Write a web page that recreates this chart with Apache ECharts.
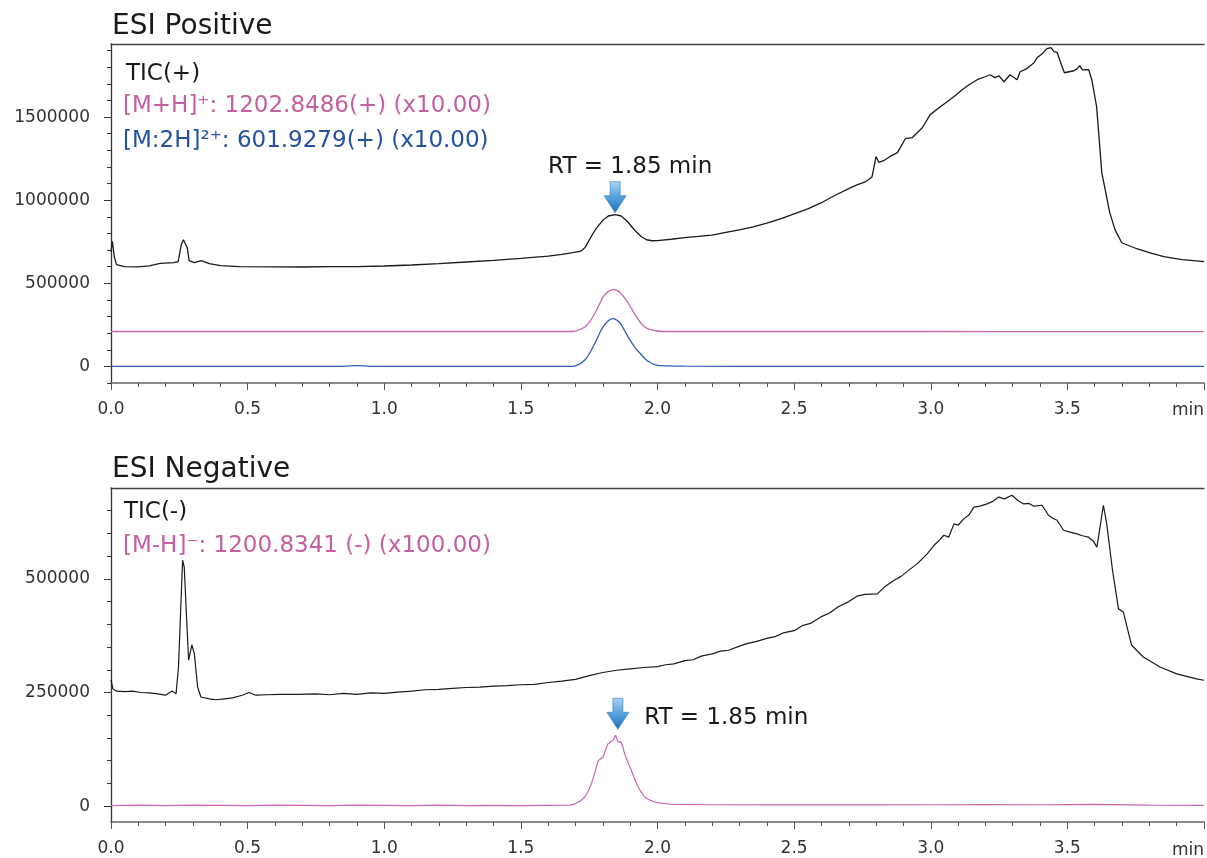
<!DOCTYPE html>
<html>
<head>
<meta charset="utf-8">
<script src="https://cdn.jsdelivr.net/npm/echarts@6/dist/echarts.min.js"></script>
<style>
	html,body{margin:0;padding:0;background:#fff;}
	#chart{width:1207px;height:858px;}
</style>
</head>
<body>
<div id="chart"></div>
<script>
// ---- data (time in min, intensity) ----
var ticPos = [
	[0.000,690000],[0.005,752000],[0.012,660000],[0.020,612000],[0.050,600000],[0.100,599000],[0.140,605000],
	[0.180,620000],[0.230,624000],[0.246,630000],[0.257,732000],[0.265,762000],[0.272,765000],[0.279,714000],
	[0.286,636000],[0.305,624000],[0.330,636000],[0.360,618000],[0.400,606000],[0.470,600000],[0.600,599000],
	[0.700,598000],[0.800,600000],[0.900,600000],[1.000,604000],[1.100,610000],[1.200,618000],[1.300,628000],
	[1.400,638000],[1.500,650000],[1.600,664000],[1.650,674000],[1.690,684000],[1.720,694000],[1.735,715000],
	[1.750,760000],[1.772,822000],[1.800,880000],[1.820,905000],[1.845,913000],[1.867,905000],[1.890,872000],
	[1.915,822000],[1.940,782000],[1.960,762000],[1.980,756000],[2.000,757000],[2.050,765000],[2.100,775000],
	[2.150,782000],[2.200,790000],[2.250,806000],[2.300,822000],[2.350,840000],[2.400,862000],[2.450,888000],
	[2.500,918000],[2.550,948000],[2.600,985000],[2.650,1030000],[2.700,1070000],[2.730,1092000],[2.760,1110000],
	[2.785,1140000],[2.800,1262000],[2.810,1228000],[2.830,1240000],[2.850,1262000],[2.878,1286000],[2.907,1370000],
	[2.932,1376000],[2.969,1436000],[2.998,1515000],[3.030,1556000],[3.060,1593000],[3.090,1630000],[3.115,1665000],
	[3.140,1695000],[3.170,1725000],[3.199,1743000],[3.217,1755000],[3.235,1738000],[3.250,1748000],[3.268,1713000],
	[3.290,1755000],[3.316,1725000],[3.327,1773000],[3.350,1790000],[3.378,1827000],[3.389,1857000],[3.410,1885000],
	[3.425,1912000],[3.440,1918000],[3.451,1894000],[3.462,1890000],[3.475,1830000],[3.489,1767000],[3.524,1779000],
	[3.535,1790000],[3.545,1810000],[3.555,1784000],[3.578,1786000],[3.590,1720000],[3.607,1563000],[3.626,1166000],
	[3.655,925000],[3.675,820000],[3.699,744000],[3.754,708000],[3.800,684000],[3.853,660000],[3.920,642000],[4.000,630000]
];
var mhPos = [
	[0.000,210000],[0.500,210000],[1.000,210000],[1.500,210000],[1.690,210000],[1.710,218000],[1.735,239000],
	[1.755,275000],[1.772,323000],[1.787,372000],[1.801,419000],[1.820,450000],[1.838,462000],[1.853,456000],
	[1.867,438000],[1.885,400000],[1.903,353000],[1.920,305000],[1.938,263000],[1.955,236000],[1.975,221000],
	[2.000,213000],[2.026,210000],[2.500,210000],[3.000,210000],[3.500,209000],[4.000,209000]
];
var m2hPos = [
	[0.000,0],[0.850,0],[0.900,5000],[0.950,0],[1.500,0],[1.690,0],[1.712,12000],[1.735,40000],[1.755,88000],
	[1.772,143000],[1.787,195000],[1.801,239000],[1.820,275000],[1.838,287000],[1.853,276000],[1.867,251000],
	[1.885,200000],[1.903,149000],[1.920,108000],[1.938,76000],[1.955,45000],[1.975,22000],[1.990,10000],
	[2.010,4000],[2.100,1000],[2.500,0],[3.000,0],[3.500,0],[4.000,0]
];
var ticNeg = [
	[0.000,278000],[0.007,258000],[0.019,253000],[0.050,252000],[0.078,253000],[0.110,250000],[0.140,249000],
	[0.170,247000],[0.200,244000],[0.215,250000],[0.225,253000],[0.238,247000],[0.247,306000],[0.262,541000],
	[0.268,526000],[0.277,409000],[0.284,321000],[0.296,355000],[0.305,335000],[0.317,262000],[0.329,240000],
	[0.360,236000],[0.384,234000],[0.415,236000],[0.445,238000],[0.480,244000],[0.505,250000],[0.530,244000],
	[0.570,245000],[0.620,246000],[0.688,246000],[0.750,247000],[0.800,245000],[0.850,248000],[0.900,246000],
	[0.950,249000],[1.000,248000],[1.050,251000],[1.100,253000],[1.150,256000],[1.200,257000],[1.250,259000],
	[1.300,261000],[1.350,262000],[1.400,264000],[1.450,265000],[1.500,267000],[1.550,268000],[1.600,272000],
	[1.650,275000],[1.700,279000],[1.750,287000],[1.800,294000],[1.850,299000],[1.900,302000],[1.950,305000],
	[2.000,307000],[2.030,311000],[2.060,313000],[2.100,320000],[2.130,322000],[2.160,330000],[2.200,335000],
	[2.230,341000],[2.260,343000],[2.300,352000],[2.330,358000],[2.360,362000],[2.400,369000],[2.430,373000],
	[2.460,381000],[2.500,386000],[2.530,397000],[2.560,402000],[2.600,417000],[2.630,425000],[2.660,438000],
	[2.700,450000],[2.730,462000],[2.760,466000],[2.805,467000],[2.830,482000],[2.866,497000],[2.890,505000],
	[2.926,522000],[2.950,533000],[2.987,555000],[3.012,574000],[3.030,584000],[3.048,596000],[3.066,592000],
	[3.085,621000],[3.100,618000],[3.121,632000],[3.140,641000],[3.158,658000],[3.180,660000],[3.206,665000],
	[3.225,670000],[3.249,680000],[3.270,676000],[3.297,684000],[3.320,672000],[3.340,665000],[3.360,666000],
	[3.377,660000],[3.407,662000],[3.431,640000],[3.445,634000],[3.462,629000],[3.486,607000],[3.510,603000],
	[3.535,599000],[3.555,595000],[3.577,592000],[3.595,583000],[3.608,570000],[3.632,662000],[3.644,621000],
	[3.665,520000],[3.687,434000],[3.705,427000],[3.720,390000],[3.735,354000],[3.778,328000],[3.839,306000],
	[3.900,291000],[3.973,280000],[4.000,277000]
];
var mhNeg = [
	[0.000,1000],[0.100,2000],[0.200,1000],[0.300,2000],[0.400,1500],[0.500,1000],[0.600,2000],[0.700,1500],
	[0.800,1000],[0.900,2000],[1.000,1500],[1.100,1000],[1.200,2000],[1.300,1000],[1.400,1500],[1.500,1000],
	[1.600,1500],[1.680,2000],[1.698,5000],[1.720,12000],[1.734,20000],[1.746,32000],[1.758,49000],[1.770,72000],
	[1.783,100000],[1.792,104000],[1.801,108000],[1.810,124000],[1.819,137000],[1.828,141000],[1.838,145000],
	[1.846,156000],[1.856,141000],[1.866,142000],[1.873,130000],[1.880,115000],[1.892,96000],[1.904,79000],
	[1.916,60000],[1.929,42000],[1.941,30000],[1.953,20000],[1.965,15000],[1.977,12000],[1.990,9000],
	[2.002,7000],[2.050,4000],[2.200,3000],[2.400,2500],[2.600,3000],[2.800,2500],[3.000,3000],[3.200,3500],
	[3.400,3000],[3.600,4000],[3.800,2000],[4.000,1500]
];
var yMajorTop = [0, 500000, 1000000, 1500000];
var yMinorTop = [-100000, 0, 100000, 200000, 300000, 400000, 500000, 600000, 700000, 800000, 900000, 1000000,
	1100000, 1200000, 1300000, 1400000, 1500000, 1600000, 1700000, 1800000, 1900000];
var yMajorBottom = [0, 250000, 500000];
var yMinorBottom = [0, 50000, 100000, 150000, 200000, 250000, 300000, 350000, 400000, 450000, 500000, 550000,
	600000, 650000];

var FONT = '"DejaVu Sans", sans-serif';
var PINK = '#cc66ad';
var PINK_TXT = '#c4609f';
var BLUE = '#2f60b2';
var BLUE_TXT = '#2552a0';

var chart = echarts.init(document.getElementById('chart'));

function arrowMark(coord, label){
	return {
		symbol: 'path://M6,0L16,0L16,14L22,14L11,31L0,14L6,14Z',
		symbolSize: [22, 31],
		symbolOffset: [0, '-50%'],
		silent: true,
		itemStyle: {
			color: new echarts.graphic.LinearGradient(0, 0, 0, 1, [
				{offset: 0, color: '#a9d3f3'},
				{offset: 0.45, color: '#5da6e0'},
				{offset: 1, color: '#1c6fbb'}
			]),
			borderColor: '#2f7cc0',
			borderWidth: 0.6
		},
		label: label,
		data: [{coord: coord}]
	};
}

function xBottom(grid){
	return {
		gridIndex: grid, type: 'value', min: 0, max: 4, interval: 0.5, position: 'bottom',
		axisLine: {show: true, onZero: false, lineStyle: {color: '#666', width: 1.6}},
		axisTick: {show: true, length: 7, lineStyle: {color: '#555'}},
		minorTick: {show: true, splitNumber: 5, length: 4, lineStyle: {color: '#555'}},
		axisLabel: {
			margin: 18, fontSize: 17, color: '#333', fontFamily: FONT,
			formatter: function(v){ return v >= 4 ? '' : v.toFixed(1); }
		},
		splitLine: {show: false}
	};
}
function xTop(grid){
	return {
		gridIndex: grid, type: 'value', min: 0, max: 4, position: 'top',
		axisLine: {show: true, onZero: false, lineStyle: {color: '#444', width: 1.4}},
		axisTick: {show: false}, axisLabel: {show: false}, splitLine: {show: false}
	};
}
function yMajor(grid, min, max, ticks){
	return {
		gridIndex: grid, type: 'value', min: min, max: max, position: 'left',
		axisLine: {show: true, onZero: false, lineStyle: {color: '#333', width: 1.3}},
		axisTick: {show: true, length: 7, customValues: ticks, lineStyle: {color: '#333'}},
		axisLabel: {
			show: true, margin: 21, fontSize: 17, color: '#333', fontFamily: FONT, customValues: ticks,
			formatter: function(v){ return String(v); }
		},
		splitLine: {show: false}
	};
}
function yMinor(grid, min, max, ticks){
	return {
		gridIndex: grid, type: 'value', min: min, max: max, position: 'left',
		axisLine: {show: false, onZero: false},
		axisTick: {show: true, length: 4, customValues: ticks, lineStyle: {color: '#333'}},
		axisLabel: {show: false},
		splitLine: {show: false}
	};
}

function txt(x, y, text, size, color){
	return {
		type: 'text', x: x, y: y, silent: true,
		style: {text: text, fontSize: size, fontFamily: FONT, fill: color, verticalAlign: 'middle', align: 'left'}
	};
}

chart.setOption({
	animation: false,
	backgroundColor: '#fff',
	grid: [
		{left: 111, top: 44, width: 1096, height: 339},
		{left: 111, top: 488, width: 1096, height: 334}
	],
	xAxis: [xBottom(0), xTop(0), xBottom(1), xTop(1)],
	yAxis: [
		yMajor(0, -100000, 1940000, yMajorTop),
		yMinor(0, -100000, 1940000, yMinorTop),
		yMajor(1, -35000, 700000, yMajorBottom),
		yMinor(1, -35000, 700000, yMinorBottom)
	],
	series: [
		{
			name: 'TIC(+)', type: 'line', xAxisIndex: 0, yAxisIndex: 0, data: ticPos,
			showSymbol: false, lineStyle: {color: '#1a1a1a', width: 1.3}, z: 3,
			markPoint: arrowMark([1.845, 925000], {
				show: true, formatter: 'RT = 1.85 min', position: 'top', distance: 3, offset: [15, 0],
				fontSize: 23, color: '#1a1a1a', fontFamily: FONT
			})
		},
		{
			name: '[M+H]+', type: 'line', xAxisIndex: 0, yAxisIndex: 0, data: mhPos, smooth: 0.3,
			showSymbol: false, lineStyle: {color: PINK, width: 1.3}
		},
		{
			name: '[M:2H]2+', type: 'line', xAxisIndex: 0, yAxisIndex: 0, data: m2hPos, smooth: 0.3,
			showSymbol: false, lineStyle: {color: BLUE, width: 1.3}
		},
		{
			name: 'TIC(-)', type: 'line', xAxisIndex: 2, yAxisIndex: 2, data: ticNeg,
			showSymbol: false, lineStyle: {color: '#1a1a1a', width: 1.2}
		},
		{
			name: '[M-H]-', type: 'line', xAxisIndex: 2, yAxisIndex: 2, data: mhNeg,
			showSymbol: false, lineStyle: {color: PINK, width: 1.2},
			markPoint: arrowMark([1.855, 169000], {
				show: true, formatter: 'RT = 1.85 min', position: 'right', distance: 15, offset: [0, 4],
				fontSize: 23, color: '#1a1a1a', fontFamily: FONT
			})
		}
	],
	graphic: [
		txt(112, 27, 'ESI Positive', 28, '#1a1a1a'),
		txt(126, 74, 'TIC(+)', 23, '#1a1a1a'),
		txt(123, 106, '[M+H]\u207A: 1202.8486(+) (x10.00)', 23, PINK_TXT),
		txt(123, 141, '[M:2H]\u00B2\u207A: 601.9279(+) (x10.00)', 23, BLUE_TXT),
		txt(112, 470, 'ESI Negative', 28, '#1a1a1a'),
		txt(124, 512, 'TIC(-)', 23, '#1a1a1a'),
		txt(123, 546, '[M-H]\u207B: 1200.8341 (-) (x100.00)', 23, PINK_TXT),
		txt(1172, 411, 'min', 17, '#333'),
		txt(1172, 851, 'min', 17, '#333')
	]
});
</script>
</body>
</html>
